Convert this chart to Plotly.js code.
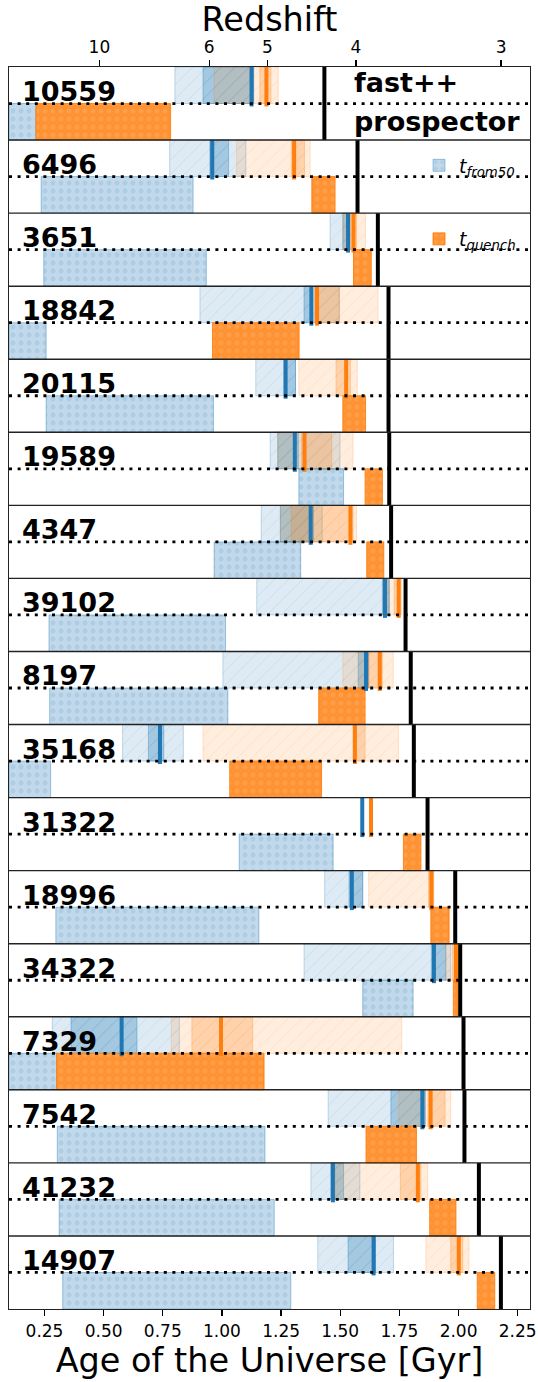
<!DOCTYPE html>
<html><head><meta charset="utf-8">
<script src="https://cdn.plot.ly/plotly-3.0.1.min.js"></script>
<style>html,body{margin:0;padding:0;background:#fff}#chart{width:538px;height:1382px}</style>
</head><body><div id="chart"></div>
<script>
// ---- data (ages in Gyr) ----
const ids = ['10559','6496','3651','18842','20115','19589','4347','39102','8197','35168','31322','18996','34322','7329','7542','41232','14907'];
const tObs = [1.433,1.573,1.659,1.704,1.704,1.707,1.715,1.776,1.798,1.811,1.869,1.986,2.007,2.021,2.025,2.086,2.179];
// fast++ t_from50 (blue): outer range, inner range, median
const fBlueLo   = [0.801,0.779,1.457,0.907,1.143,1.204,1.166,1.147,1.004,0.580,null,1.434,1.347,0.283,1.449,1.376,1.405];
const fBlueHi   = [1.134,1.101,1.540,1.496,1.311,1.499,1.424,1.707,1.620,0.837,null,1.595,1.967,0.820,1.859,1.583,1.725];
const fBlueInLo = [0.920,0.949,1.511,1.347,1.262,1.236,1.247,1.678,1.576,0.689,null,1.537,1.885,0.362,1.714,1.460,1.533];
const fBlueInHi = [1.134,1.028,1.540,1.383,1.311,1.323,1.387,1.707,1.620,0.754,null,1.595,1.946,0.641,1.859,1.514,1.649];
const fBlueMed  = [1.125,0.959,1.533,1.378,1.269,1.308,1.375,1.689,1.609,0.738,1.593,1.549,1.896,0.576,1.847,1.469,1.641];
// fast++ t_quench (orange)
const fOrLo     = [0.967,1.062,1.511,1.392,1.325,1.236,1.247,1.699,1.511,0.920,null,1.620,1.946,0.786,1.747,1.479,1.862];
const fOrHi     = [1.238,1.373,1.607,1.660,1.572,1.554,1.569,1.760,1.724,1.746,null,1.895,2.001,1.760,1.967,1.870,2.044];
const fOrInLo   = [1.160,1.293,1.543,1.392,1.482,1.337,1.293,1.728,1.620,1.554,null,1.873,1.975,0.873,1.871,1.754,1.967];
const fOrInHi   = [1.207,1.349,1.569,1.496,1.543,1.464,1.554,1.754,1.678,1.605,null,1.895,2.001,1.130,1.943,1.841,2.018];
const fOrMed    = [1.188,1.305,1.556,1.402,1.525,1.349,1.543,1.747,1.667,1.562,1.630,1.885,1.989,0.996,1.882,1.828,2.001];
// prospector ranges
const pBlueLo   = [0.100,0.236,0.247,0.100,0.257,1.325,0.967,0.269,0.272,0.100,1.073,0.298,1.595,0.100,0.304,0.312,0.327];
const pBlueHi   = [0.214,0.878,0.934,0.257,0.964,1.514,1.333,1.015,1.025,0.276,1.470,1.156,1.808,0.301,1.182,1.221,1.291];
const pOrLo     = [0.214,1.380,1.556,0.960,1.511,1.605,1.612,null,1.409,1.033,1.767,1.883,1.978,0.301,1.609,1.878,2.079];
const pOrHi     = [0.783,1.478,1.631,1.326,1.607,1.678,1.684,null,1.605,1.421,1.841,1.960,1.998,1.178,1.822,1.989,2.153];
// redshift axis
const zLabels = ['10','6','5','4','3'];
const zAges   = [0.482,0.946,1.192,1.566,2.180];
const ageTicks = [0.25,0.50,0.75,1.00,1.25,1.50,1.75,2.00,2.25];

// ---- helpers ----
const n = ids.length;
const idx = ids.map((_, i) => i);
const yTop = idx.map(i => i + 0.25);
const yBot = idx.map(i => i + 0.75);
const span = (lo, hi) => lo.map((v, i) => (v == null || hi[i] == null) ? null : hi[i] - v);
function segs(vals, a, b) {
  const x = [], y = [];
  vals.forEach((v, i) => { if (v == null) return; x.push(v, v, null); y.push(i + a, i + b, null); });
  return {x, y};
}
const BLUE = '31,119,180', OR = '255,127,14';
function hbar(y, lo, hi, fill, line, pat, extra) {
  return Object.assign({
    type: 'bar', orientation: 'h', y: y, base: lo, x: span(lo, hi), width: 0.5,
    marker: {color: fill, line: {color: line, width: 1}, pattern: pat},
    hoverinfo: 'skip', showlegend: false
  }, extra || {});
}
const hatch = c => ({shape: '/', fillmode: 'overlay', fgcolor: c, size: 10, solidity: 0.08});
const dots = c => ({shape: '.', fillmode: 'overlay', fgcolor: c, size: 8, solidity: 0.3});

const traces = [
  hbar(yTop, fBlueLo, fBlueHi, `rgba(${BLUE},0.15)`, `rgba(${BLUE},0.25)`, hatch(`rgba(${BLUE},0.3)`)),
  hbar(yTop, fBlueInLo, fBlueInHi, `rgba(${BLUE},0.3)`, `rgba(${BLUE},0.35)`, hatch(`rgba(${BLUE},0.35)`)),
  hbar(yTop, fOrLo, fOrHi, `rgba(${OR},0.14)`, `rgba(${OR},0.2)`, hatch(`rgba(${OR},0.3)`)),
  hbar(yTop, fOrInLo, fOrInHi, `rgba(${OR},0.24)`, `rgba(${OR},0.28)`, hatch(`rgba(${OR},0.3)`)),
  hbar(yBot, pBlueLo, pBlueHi, `rgba(${BLUE},0.28)`, `rgba(${BLUE},0.4)`, dots(`rgba(${BLUE},0.25)`),
       {showlegend: true, name: '<i>t</i><sub><i>from50</i></sub>', legend: 'legend'}),
  hbar(yBot, pOrLo, pOrHi, `rgba(${OR},0.85)`, `rgba(${OR},0.9)`, dots('rgba(255,175,100,0.9)'),
       {showlegend: true, name: '<i>t</i><sub><i>quench</i></sub>', legend: 'legend2'})
];
const mb = segs(fBlueMed, 0, 0.54), mo = segs(fOrMed, 0, 0.54), ob = segs(tObs, 0, 1);
traces.push({type: 'scatter', mode: 'lines', x: mb.x, y: mb.y, line: {color: '#1f77b4', width: 4}, hoverinfo: 'skip', showlegend: false});
traces.push({type: 'scatter', mode: 'lines', x: mo.x, y: mo.y, line: {color: '#ff7f0e', width: 4}, hoverinfo: 'skip', showlegend: false});
traces.push({type: 'scatter', mode: 'lines', x: ob.x, y: ob.y, line: {color: '#000', width: 4}, hoverinfo: 'skip', showlegend: false});
traces.push({type: 'scatter', mode: 'markers', x: zAges, y: zAges.map(() => null), xaxis: 'x2', yaxis: 'y', hoverinfo: 'skip', showlegend: false});

const shapes = [];
idx.forEach(i => {
  shapes.push({type: 'line', xref: 'paper', yref: 'y', x0: 0, x1: 1, y0: i + 0.5, y1: i + 0.5, layer: 'above',
               line: {color: '#000', width: 2.8, dash: '3px,5.6px'}});
  if (i > 0) shapes.push({type: 'line', xref: 'paper', yref: 'y', x0: 0, x1: 1, y0: i, y1: i, layer: 'above',
               line: {color: '#222', width: 1.4}});
});

const F = 'DejaVu Sans, sans-serif';
const annotations = idx.map(i => ({
  text: '<b>' + ids[i] + '</b>', xref: 'paper', yref: 'y', x: 0.022, y: i + 0.335,
  xanchor: 'left', yanchor: 'middle', showarrow: false, font: {family: F, size: 27, color: '#000'}
}));
annotations.push({text: '<b>fast++</b>', xref: 'paper', yref: 'y', x: 0.659, y: 0.21, xanchor: 'left', yanchor: 'middle',
  showarrow: false, font: {family: F, size: 27, color: '#000'}});
annotations.push({text: '<b>prospector</b>', xref: 'paper', yref: 'y', x: 0.659, y: 0.75, xanchor: 'left', yanchor: 'middle',
  showarrow: false, font: {family: F, size: 27, color: '#000'}});

const layout = {
  width: 538, height: 1382, margin: {l: 9, r: 8, t: 67, b: 73},
  paper_bgcolor: '#fff', plot_bgcolor: '#fff', barmode: 'overlay',
  font: {family: F, color: '#000'},
  xaxis: {range: [0.100, 2.302], tickvals: ageTicks, tickformat: '.2f', ticks: 'outside', ticklen: 6, tickwidth: 1.3,
          tickcolor: '#000', showgrid: false, zeroline: false, showline: true, mirror: true, linecolor: '#222', linewidth: 1.4,
          tickfont: {family: F, size: 17, color: '#000'},
          title: {text: 'Age of the Universe [Gyr]', font: {family: F, size: 33.5, color: '#000'}, standoff: 8}},
  xaxis2: {overlaying: 'x', side: 'top', range: [0.100, 2.302], tickvals: zAges, ticktext: zLabels, ticks: 'outside',
           ticklen: 6, tickwidth: 1.3, tickcolor: '#000', showgrid: false, zeroline: false, showline: false,
           tickfont: {family: F, size: 17, color: '#000'},
           title: {text: 'Redshift', font: {family: F, size: 33.5, color: '#000'}}},
  yaxis: {range: [n, 0], showticklabels: false, ticks: '', showgrid: false, zeroline: false, showline: true, mirror: true,
          linecolor: '#222', linewidth: 1.4, fixedrange: true},
  legend: {x: 0.787, y: 0.9207, xanchor: 'left', yanchor: 'middle', bgcolor: 'rgba(0,0,0,0)', borderwidth: 0,
           font: {family: F, size: 19, color: '#000'}},
  legend2: {x: 0.787, y: 0.8615, xanchor: 'left', yanchor: 'middle', bgcolor: 'rgba(0,0,0,0)', borderwidth: 0,
           font: {family: F, size: 19, color: '#000'}},
  shapes: shapes, annotations: annotations
};
Plotly.newPlot('chart', traces, layout, {staticPlot: true, displayModeBar: false});
</script></body></html>
